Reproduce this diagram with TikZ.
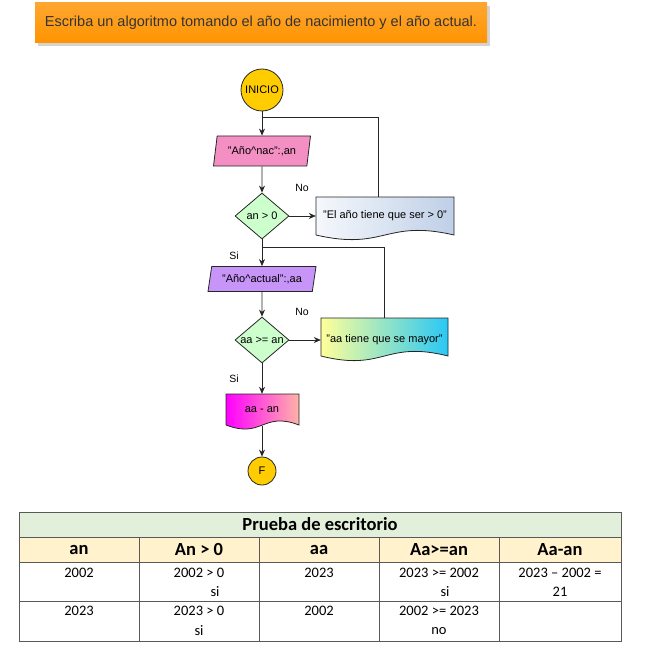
\documentclass[tikz,border=0pt]{standalone}
\usepackage{fontspec}
\setmainfont{Liberation Sans}
\newfontfamily\tablefont{Carlito}
\usetikzlibrary{arrows.meta,shapes.geometric,shadows}

\definecolor{bannertop}{HTML}{FFA630}
\definecolor{bannerbot}{HTML}{FF9400}
\definecolor{termfill}{HTML}{FFCC00}
\definecolor{termline}{HTML}{B07F00}
\definecolor{pinkin}{HTML}{F48FC4}
\definecolor{purplein}{HTML}{C794F7}
\definecolor{condfill}{HTML}{CCFFCC}
\definecolor{doconel}{HTML}{F5F8FC}
\definecolor{doconer}{HTML}{BFCFE7}
\definecolor{doctwol}{HTML}{FFFF99}
\definecolor{doctwor}{HTML}{29C8F5}
\definecolor{docthreel}{HTML}{FF00FF}
\definecolor{docthreer}{HTML}{FFB3A7}
\definecolor{tabtitle}{HTML}{E2EFDA}
\definecolor{tabhead}{HTML}{FFF2CC}

\begin{document}
\begin{tikzpicture}[x=1pt, y=-1pt, >=Stealth,
    font=\fontsize{11}{13}\selectfont,
    line/.style={draw=black!85, line width=0.8pt},
    arr/.style={line, -{Stealth[length=7pt,width=6pt]}},
    term/.style={circle, line, fill=termfill, inner sep=0pt},
    datain/.style={trapezium, trapezium left angle=72, trapezium right angle=108,
        trapezium stretches body, line, inner sep=1pt},
    cond/.style={diamond, line, fill=condfill, minimum width=54, minimum height=46, inner sep=0pt},
    msgtext/.style={rectangle, inner sep=0pt},
    lbl/.style={font=\fontsize{10.5}{12}\selectfont},
    grid/.style={draw=black!65, line width=0.8pt},
    cell/.style={font=\tablefont\fontsize{14.5}{16}\selectfont},
    headcell/.style={font=\tablefont\bfseries\fontsize{18.5}{20}\selectfont}]
    \useasboundingbox (0,0) rectangle (660,655);

    \node[rectangle, minimum width=452, minimum height=40, top color=bannertop, bottom color=bannerbot,
        drop shadow={shadow xshift=3pt, shadow yshift=-3pt, opacity=0.35},
        font=\fontsize{14.5}{16}\selectfont, text=black!80] (titulo) at (261,23)
        {Escriba un algoritmo tomando el año de nacimiento y el año actual.};

    \node[term, minimum size=42, font=\fontsize{11}{12}\selectfont] (ini) at (262,90) {INICIO};
    \node[datain, fill=pinkin, minimum width=97, minimum height=30] (nac) at (262,151) {"Año\textasciicircum nac":,an};
    \node[cond, label=center:{an > 0}] (c1) at (262,216) {};
    \shadedraw[line, left color=doconel, right color=doconer] (316,197) -- (454,197) -- (454,235)
        .. controls (385,219) and (385,251) .. (316,235) -- cycle;
    \node[msgtext, minimum width=138, minimum height=38] (m1) at (385,216) {"El año tiene que ser > 0"};

    \node[datain, fill=purplein, minimum width=108, minimum height=25] (act) at (262,279) {"Año\textasciicircum actual":,aa};
    \node[cond, label=center:{aa >= an}] (c2) at (262,340) {};
    \shadedraw[line, left color=doctwol, right color=doctwor] (321,318) -- (448,318) -- (448,356)
        .. controls (384.5,340) and (384.5,372) .. (321,356) -- cycle;
    \node[msgtext, minimum width=127, minimum height=44] (m2) at (384.5,340) {"aa tiene que se mayor"};

    \shadedraw[line, left color=docthreel, right color=docthreer] (226,394) -- (299,394) -- (299,425)
        .. controls (262.5,411) and (262.5,439) .. (226,425) -- cycle;
    \node[msgtext, minimum width=73, minimum height=32] (res) at (262,410) {aa - an};
    \node[term, minimum size=28] (fin) at (262,471) {F};

    \node[lbl] (no1) at (302,188) {No};
    \node[lbl] (si1) at (234,256) {Si};
    \node[lbl] (no2) at (302,312) {No};
    \node[lbl] (si2) at (234,379) {Si};

    \coordinate (j1) at (262,117);
    \coordinate (j2) at (262,247);
    \draw[arr] (ini) -- (nac);
    \draw[arr] (nac) -- (c1);
    \draw[arr] (c1) -- (m1);
    \draw[arr] (c1) -- (act);
    \draw[arr] (act) -- (c2);
    \draw[arr] (c2) -- (m2);
    \draw[arr] (c2) -- (res);
    \draw[arr] (res) -- (fin);
    \draw[line] ([xshift=-7pt]m1.north) |- (j1);
    \draw[line] (m2.north) |- (j2);

    \fill[tabtitle] (19,512) rectangle (621,537);
    \fill[tabhead] (19,537) rectangle (621,562);
    \draw[grid] (19,512) rectangle (621,641);
    \draw[grid] (19,537) -- (621,537);
    \draw[grid] (19,562) -- (621,562);
    \draw[grid] (19,601) -- (621,601);
    \foreach \x in {139,259,379,499}
        \draw[grid] (\x,537) -- (\x,641);

    \node[headcell] (prueba) at (320,524.5) {Prueba de escritorio};
    \node[headcell] (h1) at (79,549.5) {an};
    \node[headcell] (h2) at (199,549.5) {An > 0};
    \node[headcell] (h3) at (319,549.5) {aa};
    \node[headcell] (h4) at (439,549.5) {Aa>=an};
    \node[headcell] (h5) at (560,549.5) {Aa-an};

    \node[cell] (a1) at (79,573) {2002};
    \node[cell] (b1) at (199,573) {2002 > 0};
    \node[cell] (b1s) at (215,592) {si};
    \node[cell] (c1t) at (319,573) {2023};
    \node[cell] (d1) at (439,573) {2023 >= 2002};
    \node[cell] (d1s) at (445,592) {si};
    \node[cell] (e1) at (560,573) {2023 – 2002 =};
    \node[cell] (e1s) at (560,592) {21};

    \node[cell] (a2) at (79,611) {2023};
    \node[cell] (b2) at (199,611) {2023 > 0};
    \node[cell] (b2s) at (199,631) {si};
    \node[cell] (c2t) at (319,611) {2002};
    \node[cell] (d2) at (439,611) {2002 >= 2023};
    \node[cell] (d2s) at (439,631) {no};
\end{tikzpicture}
\end{document}
